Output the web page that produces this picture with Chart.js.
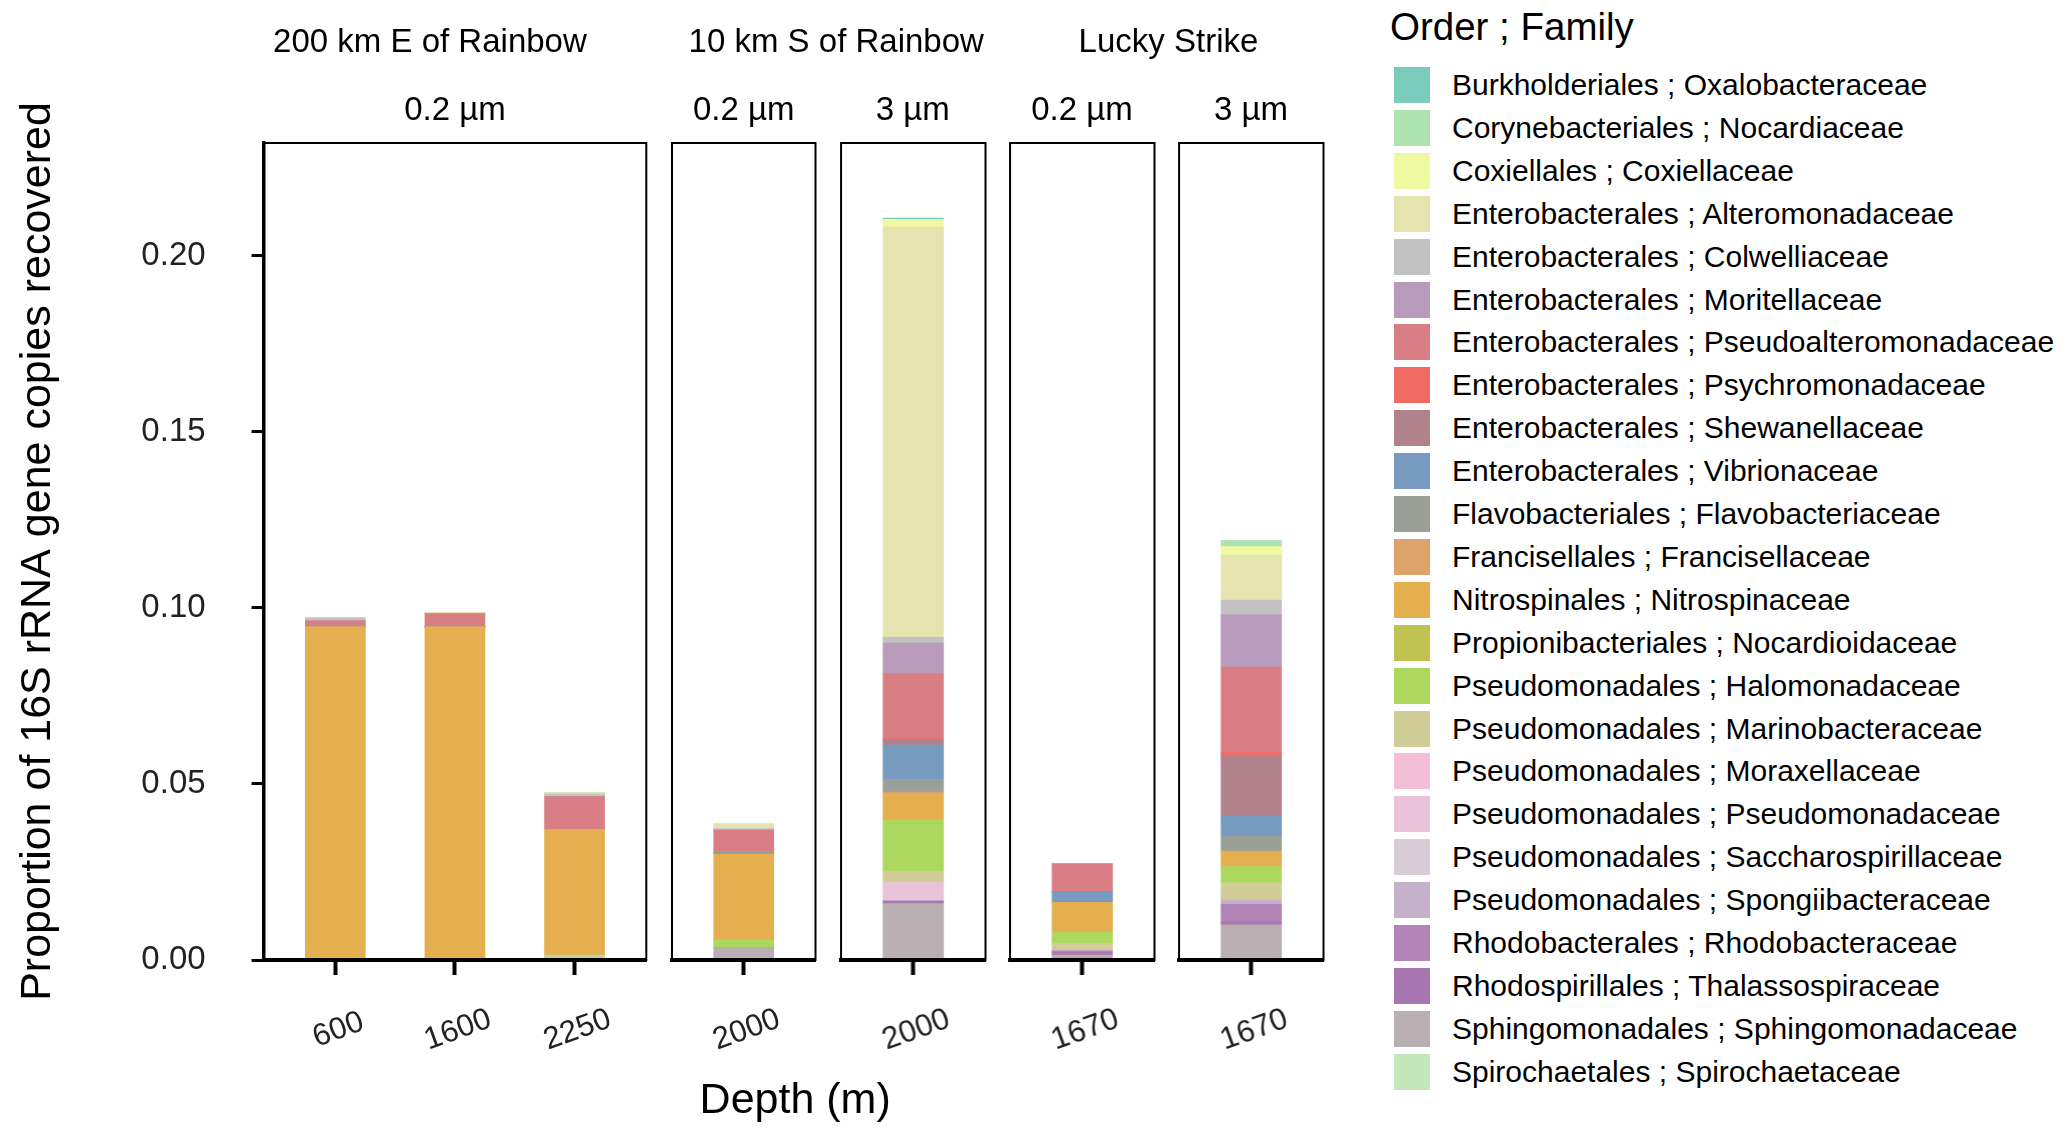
<!DOCTYPE html>
<html>
<head>
<meta charset="utf-8">
<title>16S rRNA proportions by depth</title>
<script src="https://cdn.jsdelivr.net/npm/chart.js@4.4.1/dist/chart.umd.min.js"></script>
<style>
  html, body { margin: 0; padding: 0; background: #fff; }
  body {
    width: 2067px; height: 1133px; position: relative; overflow: hidden;
    font-family: "Liberation Sans", Arial, sans-serif; color: #000;
  }
  .panel { position: absolute; }
  .strip { position: absolute; font-size: 33px; line-height: 33px; text-align: center; white-space: nowrap; }
  .xtitle { position: absolute; font-size: 43px; line-height: 43px; text-align: center; white-space: nowrap; }
  .legend-title { position: absolute; left: 1390px; top: 8px; font-size: 38.5px; line-height: 38px; white-space: nowrap; }
  .legend-row { position: absolute; left: 1394px; height: 36px; display: flex; align-items: center; white-space: nowrap; }
  .legend-row .key { width: 36px; height: 36px; margin-right: 22px; }
  .legend-row span { font-size: 30px; line-height: 36px; }
</style>
</head>
<body>
<div class="legend-title">Order ; Family</div>
<div id="legend"></div>
<script>
// taxa, in legend order (first one ends up on top of each stack)
const families = [
  'Burkholderiales ; Oxalobacteraceae',
  'Corynebacteriales ; Nocardiaceae',
  'Coxiellales ; Coxiellaceae',
  'Enterobacterales ; Alteromonadaceae',
  'Enterobacterales ; Colwelliaceae',
  'Enterobacterales ; Moritellaceae',
  'Enterobacterales ; Pseudoalteromonadaceae',
  'Enterobacterales ; Psychromonadaceae',
  'Enterobacterales ; Shewanellaceae',
  'Enterobacterales ; Vibrionaceae',
  'Flavobacteriales ; Flavobacteriaceae',
  'Francisellales ; Francisellaceae',
  'Nitrospinales ; Nitrospinaceae',
  'Propionibacteriales ; Nocardioidaceae',
  'Pseudomonadales ; Halomonadaceae',
  'Pseudomonadales ; Marinobacteraceae',
  'Pseudomonadales ; Moraxellaceae',
  'Pseudomonadales ; Pseudomonadaceae',
  'Pseudomonadales ; Saccharospirillaceae',
  'Pseudomonadales ; Spongiibacteraceae',
  'Rhodobacterales ; Rhodobacteraceae',
  'Rhodospirillales ; Thalassospiraceae',
  'Sphingomonadales ; Sphingomonadaceae',
  'Spirochaetales ; Spirochaetaceae'
];

const familyColors = [
  '#79CBBB', '#AEE2AE', '#EEF9A2', '#E5E4B0', '#C3C2C3', '#B99BBB',
  '#DA7E85', '#F06B64', '#B0828B', '#779BC0', '#9AA098', '#DCA46C',
  '#E5AF50', '#C0C351', '#ADD860', '#D0CD98', '#F4BED6', '#EAC2DA',
  '#D8CCD6', '#C5B2CA', '#B384B8', '#A877B1', '#B9AFB3', '#C2E8B9'
];

// one array per sample, values in the same order as families
const e200_600   = [0, 0, 0, 0, 0.0009, 0, 0.0017, 0, 0, 0, 0, 0, 0.0946, 0, 0, 0, 0, 0, 0, 0, 0, 0, 0, 0];
const e200_1600  = [0, 0, 0, 0.0003, 0, 0, 0.0038, 0, 0, 0, 0, 0, 0.0946, 0, 0, 0, 0, 0, 0, 0, 0, 0, 0, 0];
const e200_2250  = [0, 0, 0, 0.0004, 0.0007, 0, 0.0094, 0, 0, 0, 0, 0, 0.0356, 0, 0, 0.0009, 0, 0.0005, 0, 0, 0, 0, 0, 0];
const s10_2000_small = [0, 0, 0, 0.0013, 0.0004, 0, 0.0064, 0, 0, 0, 0.0005, 0, 0.0243, 0, 0.0021, 0, 0, 0, 0, 0, 0, 0, 0.0036, 0];
const s10_2000_large = [0.0004, 0, 0.0022, 0.1164, 0.0017, 0.0087, 0.0185, 0.0004, 0.0014, 0.0097, 0.0036, 0.0007,
                        0.0072, 0, 0.0146, 0.0032, 0, 0.0046, 0.0007, 0, 0, 0.0007, 0.0160, 0];
const ls_1670_small = [0, 0, 0, 0, 0, 0, 0.0079, 0, 0, 0.0030, 0, 0, 0.0086, 0, 0.0031, 0.0021, 0, 0, 0, 0, 0.0005, 0.0007, 0.0014, 0];
const ls_1670_large = [0, 0.0016, 0.0024, 0.0128, 0.0041, 0.0149, 0.0243, 0.0008, 0.0173, 0.0057, 0.0042, 0.0002,
                       0.0042, 0, 0.0046, 0.0048, 0, 0, 0, 0.0013, 0.0049, 0.0009, 0.0100, 0];

// facets
const sites = ['200 km E of Rainbow', '10 km S of Rainbow', 'Lucky Strike'];
const panelSite = [0, 1, 1, 2, 2];
const panelFilter = ['0.2 µm', '0.2 µm', '3 µm', '0.2 µm', '3 µm'];
const panelDepths = [['600', '1600', '2250'], ['2000'], ['2000'], ['1670'], ['1670']];
const panelSamples = [[e200_600, e200_1600, e200_2250], [s10_2000_small], [s10_2000_large], [ls_1670_small], [ls_1670_large]];

const yMax = 0.232;
const yTicks = [0, 0.05, 0.10, 0.15, 0.20];
const yTitle = 'Proportion of 16S rRNA gene copies recovered';
const xTitle = 'Depth (m)';

// layout
const FONT = '"Liberation Sans", Arial, sans-serif';
const chartTop = 143, chartBottom = 960;
const firstLeft = 263.6, unit = 119.6, gap = 25.6, yAxisW = 263.6, pad = 3;
const siteShift = [-25, 8, 2];

Chart.defaults.font.family = FONT;
Chart.defaults.color = '#000';

const panelLeft = [];
const panelWidth = [];
let cursor = firstLeft;
panelDepths.forEach(d => {
  panelLeft.push(cursor);
  panelWidth.push((d.length + 0.2) * unit);
  cursor += (d.length + 0.2) * unit + gap;
});

const panelBox = {
  id: 'panelBox',
  afterDatasetsDraw(chart) {
    const { ctx, chartArea: a } = chart;
    ctx.save();
    ctx.strokeStyle = '#000';
    ctx.lineWidth = 2;
    ctx.strokeRect(a.left, a.top, a.right - a.left, a.bottom - a.top);
    ctx.restore();
  }
};

const slantLabels = {
  id: 'slantLabels',
  afterDraw(chart) {
    const sx = chart.scales.x;
    const { ctx } = chart;
    ctx.save();
    ctx.font = '31px ' + FONT;
    ctx.fillStyle = '#222';
    ctx.textAlign = 'center';
    ctx.textBaseline = 'middle';
    sx.getLabels().forEach((lab, i) => {
      ctx.save();
      ctx.translate(sx.getPixelForTick(i) + 3, chart.chartArea.bottom + 70);
      ctx.rotate(-20 * Math.PI / 180);
      ctx.fillText(lab, 0, 0);
      ctx.restore();
    });
    ctx.restore();
  }
};

function makePanel(i) {
  const first = i === 0;
  const div = document.createElement('div');
  div.className = 'panel';
  const leftExtra = first ? yAxisW : pad;
  div.style.left = (panelLeft[i] - leftExtra) + 'px';
  div.style.top = '0px';
  div.style.width = (panelWidth[i] + leftExtra + pad) + 'px';
  div.style.height = '1133px';
  const canvas = document.createElement('canvas');
  div.appendChild(canvas);
  document.body.appendChild(div);

  // stack bottom-up: last family first
  const datasets = families.map((name, f) => ({
    label: name,
    data: panelSamples[i].map(s => s[f]),
    backgroundColor: familyColors[f],
    borderWidth: 0,
    barThickness: 60
  })).reverse();

  const yScale = {
    display: first,
    stacked: true,
    min: 0,
    max: yMax,
    afterBuildTicks: s => { s.ticks = yTicks.map(v => ({ value: v })); },
    ticks: {
      padding: 46,
      color: '#222',
      font: { size: 33 },
      callback: v => v.toFixed(2)
    },
    grid: { drawOnChartArea: false, drawTicks: true, tickLength: 12, tickWidth: 3, tickColor: '#000' },
    border: { display: true, width: 3.5, color: '#000', z: 1 },
    title: { display: true, text: yTitle, color: '#000', font: { size: 43 }, padding: { top: 12, bottom: 0 } }
  };
  if (first) {
    yScale.afterFit = s => { s.width = yAxisW; s.paddingTop = 0; s.paddingBottom = 0; };
  }

  new Chart(canvas, {
    type: 'bar',
    data: { labels: panelDepths[i], datasets },
    options: {
      responsive: true,
      maintainAspectRatio: false,
      animation: false,
      layout: { padding: { top: chartTop, right: pad, left: first ? 0 : pad, bottom: 0 } },
      plugins: { legend: { display: false }, tooltip: { enabled: false } },
      scales: {
        x: {
          stacked: true,
          offset: true,
          // ggplot style discrete expansion: 0.6 of a category on each side
          afterBuildTicks: s => { s._startValue = -0.6; s._valueRange = s.getLabels().length + 0.2; },
          afterFit: s => { s.height = 1133 - chartBottom; s.paddingLeft = 0; s.paddingRight = 0; },
          grid: { display: true, drawOnChartArea: false, drawTicks: true, tickLength: 15, tickWidth: 4, tickColor: '#000', offset: false },
          border: { display: true, width: 4, color: '#000', z: 1 },
          ticks: { display: false }
        },
        y: yScale
      }
    },
    plugins: [panelBox, slantLabels]
  });
}

panelDepths.forEach((d, i) => makePanel(i));

// facet strips
function addText(cls, text, cx, top, w) {
  const el = document.createElement('div');
  el.className = cls;
  el.textContent = text;
  el.style.left = (cx - w / 2) + 'px';
  el.style.width = w + 'px';
  el.style.top = top + 'px';
  document.body.appendChild(el);
}

sites.forEach((s, k) => {
  const idx = panelSite.map((v, j) => v === k ? j : -1).filter(j => j >= 0);
  const l = panelLeft[idx[0]];
  const r = panelLeft[idx[idx.length - 1]] + panelWidth[idx[idx.length - 1]];
  addText('strip', s, (l + r) / 2 + siteShift[k], 24, 400);
});
panelFilter.forEach((f, i) => {
  addText('strip', f, panelLeft[i] + panelWidth[i] / 2, 92, 200);
});

const lastPanel = panelLeft.length - 1;
addText('xtitle', xTitle, (firstLeft + panelLeft[lastPanel] + panelWidth[lastPanel]) / 2 + 2, 1077, 400);

// legend
const legend = document.getElementById('legend');
families.forEach((name, f) => {
  const row = document.createElement('div');
  row.className = 'legend-row';
  row.style.top = (67 + f * 42.9) + 'px';
  const key = document.createElement('div');
  key.className = 'key';
  key.style.background = familyColors[f];
  const label = document.createElement('span');
  label.textContent = name;
  row.appendChild(key);
  row.appendChild(label);
  legend.appendChild(row);
});
</script>
</body>
</html>
